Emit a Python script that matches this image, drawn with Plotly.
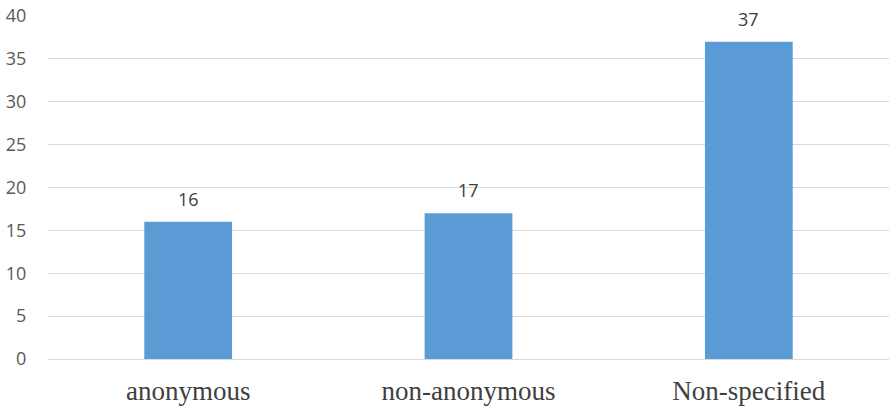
import plotly.graph_objects as go

categories = ["anonymous", "non-anonymous", "Non-specified"]
values = [16, 17, 37]
y_ticks = [0, 5, 10, 15, 20, 25, 30, 35, 40]

fig = go.Figure()
fig.add_trace(go.Bar(
    x=categories, y=values,
    marker=dict(color="#5B9BD5", line=dict(width=0)),
    width=0.313,
    hoverinfo="skip",
))

for c, v in zip(categories, values):
    fig.add_annotation(
        x=c, y=v, text=str(v), showarrow=False, yshift=23,
        font=dict(family="Open Sans, DejaVu Sans, sans-serif", size=18, color="#404040"),
    )

fig.update_layout(
    width=889, height=410,
    margin=dict(l=48, r=0, t=16, b=51),
    paper_bgcolor="white", plot_bgcolor="white",
    showlegend=False,
    xaxis=dict(
        tickfont=dict(family="Liberation Serif, Times New Roman, serif", size=27, color="#404040"),
        showgrid=False, zeroline=False, showline=False,
        ticks="outside", ticklen=8, tickcolor="rgba(0,0,0,0)",
    ),
    yaxis=dict(
        range=[0, 40], tickvals=y_ticks,
        tickfont=dict(family="Open Sans, DejaVu Sans, sans-serif", size=18, color="#595959"),
        showgrid=True, gridcolor="#D9D9D9", gridwidth=1,
        zeroline=True, zerolinecolor="#D9D9D9", zerolinewidth=1,
        showline=False,
        ticks="outside", ticklen=17, tickcolor="rgba(0,0,0,0)",
    ),
)

fig.write_html("out.html")
